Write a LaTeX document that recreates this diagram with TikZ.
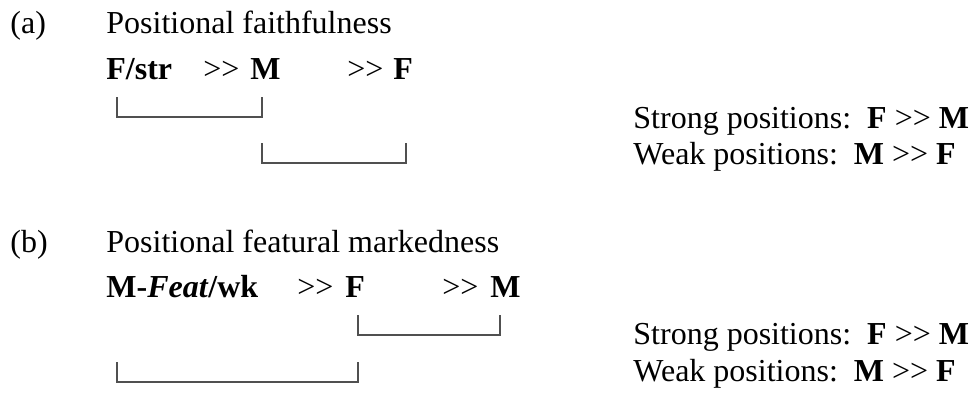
\documentclass[tikz,border=0pt]{standalone}
\usepackage{fontspec}
\setmainfont{Liberation Serif}
\usepackage{xcolor}
\usepackage{tikz}
\usetikzlibrary{positioning, calc}
\definecolor{bracketgray}{HTML}{505050}
\newcommand{\gtgt}{>\kern0pt>}

\tikzset{
  txt/.style={anchor=base west, inner sep=0pt, font=\fontsize{16}{19}\selectfont},
  brack/.style={draw=bracketgray, line width=0.6pt}
}

\begin{document}
\begin{tikzpicture}[x=0.5pt, y=-0.5pt]
    \useasboundingbox (0,0) rectangle (974,392);

    % (a) positional faithfulness
    \node[txt] (labA) at (10,33) {(a)};
    \node[txt] (titleA) at (106,33) {Positional faithfulness};
    \node[txt] (fstr) at (106,79) {\textbf{F/str}};
    \node[txt] (ggA1) at (203,79) {\gtgt};
    \node[txt] (mA) at (250,79) {\textbf{M}};
    \node[txt] (ggA2) at (347,79) {\gtgt};
    \node[txt] (fA) at (393,79) {\textbf{F}};
    \node[txt] (strongA) at (633,128) {Strong positions:\ \ \textbf{F} \gtgt{} \textbf{M}};
    \node[txt] (weakA) at (633,164) {Weak positions:\ \ \textbf{M} \gtgt{} \textbf{F}};

    \coordinate (a1) at (117,97);
    \coordinate (a2) at (262,97);
    \coordinate (a3) at (262,143);
    \coordinate (a4) at (406,143);
    \draw[brack] (a1) -- ++(0,20) -| (a2);
    \draw[brack] (a3) -- ++(0,20) -| (a4);

    % (b) positional featural markedness
    \node[txt] (labB) at (10,252) {(b)};
    \node[txt] (titleB) at (106,252) {Positional featural markedness};
    \node[txt] (mfeat) at (106,297) {\textbf{M-\textit{Feat}/wk}};
    \node[txt] (ggB1) at (297,297) {\gtgt};
    \node[txt] (fB) at (345,297) {\textbf{F}};
    \node[txt] (ggB2) at (442,297) {\gtgt};
    \node[txt] (mB) at (490,297) {\textbf{M}};
    \node[txt] (strongB) at (633,344) {Strong positions:\ \ \textbf{F} \gtgt{} \textbf{M}};
    \node[txt] (weakB) at (633,381) {Weak positions:\ \ \textbf{M} \gtgt{} \textbf{F}};

    \coordinate (b1) at (358,315);
    \coordinate (b2) at (500,315);
    \coordinate (b3) at (117,362);
    \coordinate (b4) at (358,362);
    \draw[brack] (b1) -- ++(0,20) -| (b2);
    \draw[brack] (b3) -- ++(0,20) -| (b4);
\end{tikzpicture}
\end{document}
